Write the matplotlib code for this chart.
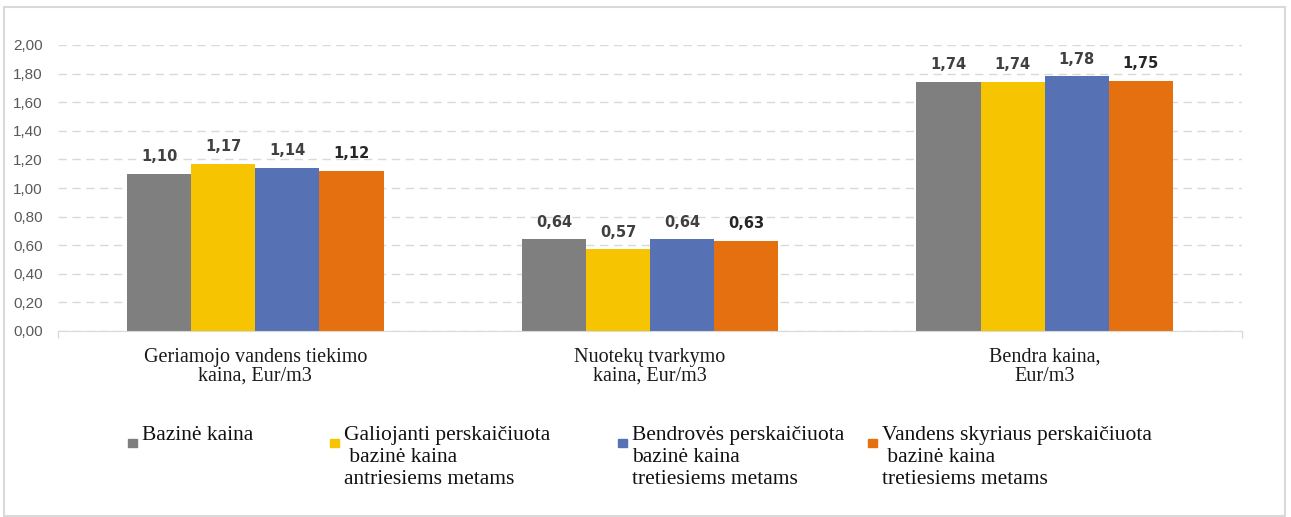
import numpy as np
import matplotlib.pyplot as plt
from matplotlib.patches import Rectangle

categories = ["Geriamojo vandens tiekimo\nkaina, Eur/m3",
              "Nuotekų tvarkymo\nkaina, Eur/m3",
              "Bendra kaina,\nEur/m3"]
series_names = ["Bazinė kaina",
                "Galiojanti perskaičiuota\n bazinė kaina\nantriesiems metams",
                "Bendrovės perskaičiuota\nbazinė kaina\ntretiesiems metams",
                "Vandens skyriaus perskaičiuota\n bazinė kaina\ntretiesiems metams"]
bazine = [1.10, 0.64, 1.74]
galiojanti = [1.17, 0.57, 1.74]
bendroves = [1.14, 0.64, 1.78]
skyriaus = [1.12, 0.63, 1.75]
yticks = np.arange(0, 2.01, 0.2)

colors = ["#7F7F7F", "#F6C400", "#5671B4", "#E5700F"]
label_colors = ["#404040", "#404040", "#404040", "#262626"]

W, H = 1291, 517
fig = plt.figure(figsize=(W / 100, H / 100), dpi=100)
ax = fig.add_axes([58 / W, 1 - 331 / H, (1242 - 58) / W, (331 - 45) / H])

x = np.arange(len(categories))
width = 64 / 394
all_series = [bazine, galiojanti, bendroves, skyriaus]
for i, vals in enumerate(all_series):
    pos = x + (i - 1.5) * width
    bars = ax.bar(pos, vals, width, color=colors[i], zorder=2)
    for b, v in zip(bars, vals):
        ax.annotate(f"{v:.2f}".replace(".", ","),
                    (b.get_x() + b.get_width() / 2, v),
                    xytext=(0, 7), textcoords="offset points",
                    ha="center", va="bottom", fontsize=10.5,
                    fontweight="bold", color=label_colors[i],
                    family="DejaVu Sans")

ax.set_xlim(-0.5, 2.5)
ax.set_ylim(0, 2.0)
ax.set_yticks(yticks)
ax.set_yticklabels([f"{t:.2f}".replace(".", ",") for t in yticks],
                   fontsize=11, color="#595959", family="Liberation Sans")
ax.tick_params(axis="y", length=0, pad=11)
ax.grid(axis="y", color="#D9D9D9", linestyle=(0, (6, 4)), linewidth=1, zorder=0)
ax.set_axisbelow(True)

ax.set_xticks(x)
ax.set_xticklabels(categories, fontsize=14.5, family="Liberation Serif",
                   color="#1a1a1a", linespacing=1.0)
ax.set_xticks([-0.5, 2.5], minor=True)
ax.tick_params(axis="x", which="major", length=0, pad=12)
ax.tick_params(axis="x", which="minor", length=5, color="#D9D9D9", width=1)

for s in ["top", "right", "left"]:
    ax.spines[s].set_visible(False)
ax.spines["bottom"].set_color("#D9D9D9")

# legend
leg_x = [128, 330, 618, 868]
for i, name in enumerate(series_names):
    fig.patches.append(Rectangle((leg_x[i] / W, 1 - 447 / H), 9 / W, 8 / H,
                                 transform=fig.transFigure,
                                 color=colors[i], figure=fig))
    fig.text((leg_x[i] + 14) / W, 1 - 426 / H, name, ha="left", va="top",
             fontsize=15.5, family="Liberation Serif", color="#111111",
             linespacing=1.2)

fig.patches.append(Rectangle((4 / W, 1 / H), 1281 / W, 1 - 8 / H,
                             transform=fig.transFigure, fill=False,
                             edgecolor="#D9D9D9", linewidth=1.5, figure=fig))

fig.savefig("out.png", dpi=100)
